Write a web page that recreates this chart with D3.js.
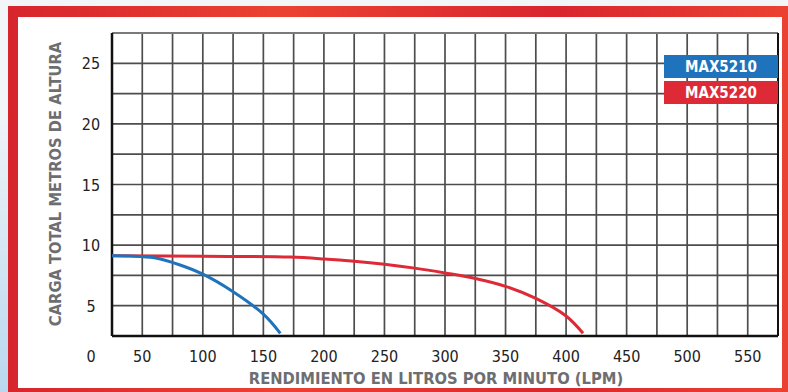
<!DOCTYPE html>
<html>
<head>
<meta charset="utf-8">
<script src="https://cdn.jsdelivr.net/npm/d3@7"></script>
<style>
  body { margin: 0; background: #f3f6f9; }
  svg { display: block; }
  text { font-family: "DejaVu Sans Condensed", "Roboto", sans-serif; }
</style>
</head>
<body>
<svg width="788" height="392"></svg>
<script>
// data (flow LPM, head in metres)
var seriesNames = ["MAX5210", "MAX5220"];
var seriesColors = ["#1f73bd", "#dd2a36"];
var flowBlue = [25, 40, 60, 80, 100, 125, 150, 164];
var headBlue = [9.12, 9.1, 8.95, 8.4, 7.6, 6.15, 4.3, 2.72];
var flowRed = [25, 100, 172, 200, 225, 250, 275, 300, 325, 350, 375, 400, 414];
var headRed = [9.12, 9.08, 9.01, 8.86, 8.67, 8.42, 8.1, 7.7, 7.25, 6.6, 5.6, 4.15, 2.72];
var xTickLabels = [50, 100, 150, 200, 250, 300, 350, 400, 450, 500, 550];
var yTickLabels = [5, 10, 15, 20, 25];
var originLabel = "0";
var xTitle = "RENDIMIENTO EN LITROS POR MINUTO (LPM)";
var yTitle = "CARGA TOTAL METROS DE ALTURA";

var svg = d3.select("svg"),
    width = +svg.attr("width"),
    height = +svg.attr("height");

// background + red frame
var defs = svg.append("defs");
var bg = defs.append("linearGradient").attr("id", "bg").attr("x1", 0).attr("y1", 0).attr("x2", 0).attr("y2", 1);
bg.append("stop").attr("offset", "0%").attr("stop-color", "#eef3f8");
bg.append("stop").attr("offset", "100%").attr("stop-color", "#b9d8ee");
var fr = defs.append("linearGradient").attr("id", "frame").attr("x1", 0).attr("y1", 0).attr("x2", 1).attr("y2", 0);
fr.append("stop").attr("offset", "0%").attr("stop-color", "#d7252d");
fr.append("stop").attr("offset", "35%").attr("stop-color", "#ea4232");
fr.append("stop").attr("offset", "70%").attr("stop-color", "#d9262f");
fr.append("stop").attr("offset", "100%").attr("stop-color", "#ea4232");

svg.append("rect").attr("width", width).attr("height", height).attr("fill", "#f3f6f9");
svg.append("rect").attr("x", 0).attr("y", 120).attr("width", 8).attr("height", height - 120).attr("fill", "url(#bg)");
svg.append("rect").attr("x", 8).attr("y", 6).attr("width", width - 8).attr("height", height - 6).attr("fill", "url(#frame)");
svg.append("rect").attr("x", 18).attr("y", 17).attr("width", 764).attr("height", 371).attr("fill", "#fff");

var x = d3.scaleLinear().domain([25, 575]).range([112, 778]);
var y = d3.scaleLinear().domain([2.5, 27.5]).range([336, 33]);

// grid
var grid = svg.append("g").attr("class", "grid");
grid.selectAll("line.v")
  .data(d3.range(50, 575, 25))
  .enter().append("line")
    .attr("class", "v")
    .attr("x1", function(d) { return x(d); })
    .attr("x2", function(d) { return x(d); })
    .attr("y1", y(27.5))
    .attr("y2", y(2.5))
    .attr("stroke", "#4d4d4d")
    .attr("stroke-width", 1.7);
grid.selectAll("line.h")
  .data(d3.range(5, 27.5, 2.5))
  .enter().append("line")
    .attr("class", "h")
    .attr("x1", x(25))
    .attr("x2", x(575))
    .attr("y1", function(d) { return y(d); })
    .attr("y2", function(d) { return y(d); })
    .attr("stroke", "#4d4d4d")
    .attr("stroke-width", 1.7);

// plot border
svg.append("line").attr("x1", x(25)).attr("x2", x(575)).attr("y1", y(27.5)).attr("y2", y(27.5))
  .attr("stroke", "#7a7a7a").attr("stroke-width", 2);
svg.append("line").attr("x1", x(25)).attr("x2", x(575)).attr("y1", y(2.5)).attr("y2", y(2.5))
  .attr("stroke", "#111").attr("stroke-width", 2.5);
svg.append("line").attr("x1", x(25)).attr("x2", x(25)).attr("y1", y(27.5)).attr("y2", y(2.5))
  .attr("stroke", "#111").attr("stroke-width", 2.5);
svg.append("line").attr("x1", x(575)).attr("x2", x(575)).attr("y1", y(27.5)).attr("y2", y(2.5))
  .attr("stroke", "#111").attr("stroke-width", 2);

// curves
var line = d3.line()
  .x(function(d) { return x(d[0]); })
  .y(function(d) { return y(d[1]); })
  .curve(d3.curveCatmullRom.alpha(0.5));

var curves = [d3.zip(flowRed, headRed), d3.zip(flowBlue, headBlue)];
var curveColors = [seriesColors[1], seriesColors[0]];
svg.append("g").selectAll("path")
  .data(curves)
  .enter().append("path")
    .attr("d", line)
    .attr("fill", "none")
    .attr("stroke", function(d, i) { return curveColors[i]; })
    .attr("stroke-width", 3);

// tick labels
svg.append("g").selectAll("text")
  .data(xTickLabels)
  .enter().append("text")
    .attr("x", function(d) { return x(d); })
    .attr("y", 362)
    .attr("text-anchor", "middle")
    .attr("font-size", 16)
    .attr("fill", "#222")
    .text(function(d) { return d; });

svg.append("g").selectAll("text")
  .data(yTickLabels)
  .enter().append("text")
    .attr("x", 91)
    .attr("y", function(d) { return y(d) + 6; })
    .attr("text-anchor", "middle")
    .attr("font-size", 16)
    .attr("fill", "#222")
    .text(function(d) { return d; });

svg.append("text")
  .attr("x", 91).attr("y", 362)
  .attr("text-anchor", "middle")
  .attr("font-size", 16)
  .attr("fill", "#222")
  .text(originLabel);

// axis titles
svg.append("text")
  .attr("x", 436).attr("y", 384)
  .attr("text-anchor", "middle")
  .attr("font-size", 16.4)
  .attr("font-weight", "bold")
  .attr("fill", "#6d6e71")
  .text(xTitle);

svg.append("text")
  .attr("transform", "translate(61,184) rotate(-90)")
  .attr("text-anchor", "middle")
  .attr("font-size", 16.4)
  .attr("font-weight", "bold")
  .attr("fill", "#6d6e71")
  .text(yTitle);

// legend
var legend = svg.append("g").attr("class", "legend");
var lg = legend.selectAll("g")
  .data(seriesNames)
  .enter().append("g")
    .attr("transform", function(d, i) { return "translate(664," + (55 + i * 26) + ")"; });
lg.append("rect")
  .attr("width", 114)
  .attr("height", 23)
  .attr("fill", function(d, i) { return seriesColors[i]; });
lg.append("text")
  .attr("x", 57)
  .attr("y", 17)
  .attr("text-anchor", "middle")
  .attr("font-size", 15)
  .attr("font-weight", "bold")
  .attr("fill", "#fff")
  .text(function(d) { return d; });
</script>
</body>
</html>
